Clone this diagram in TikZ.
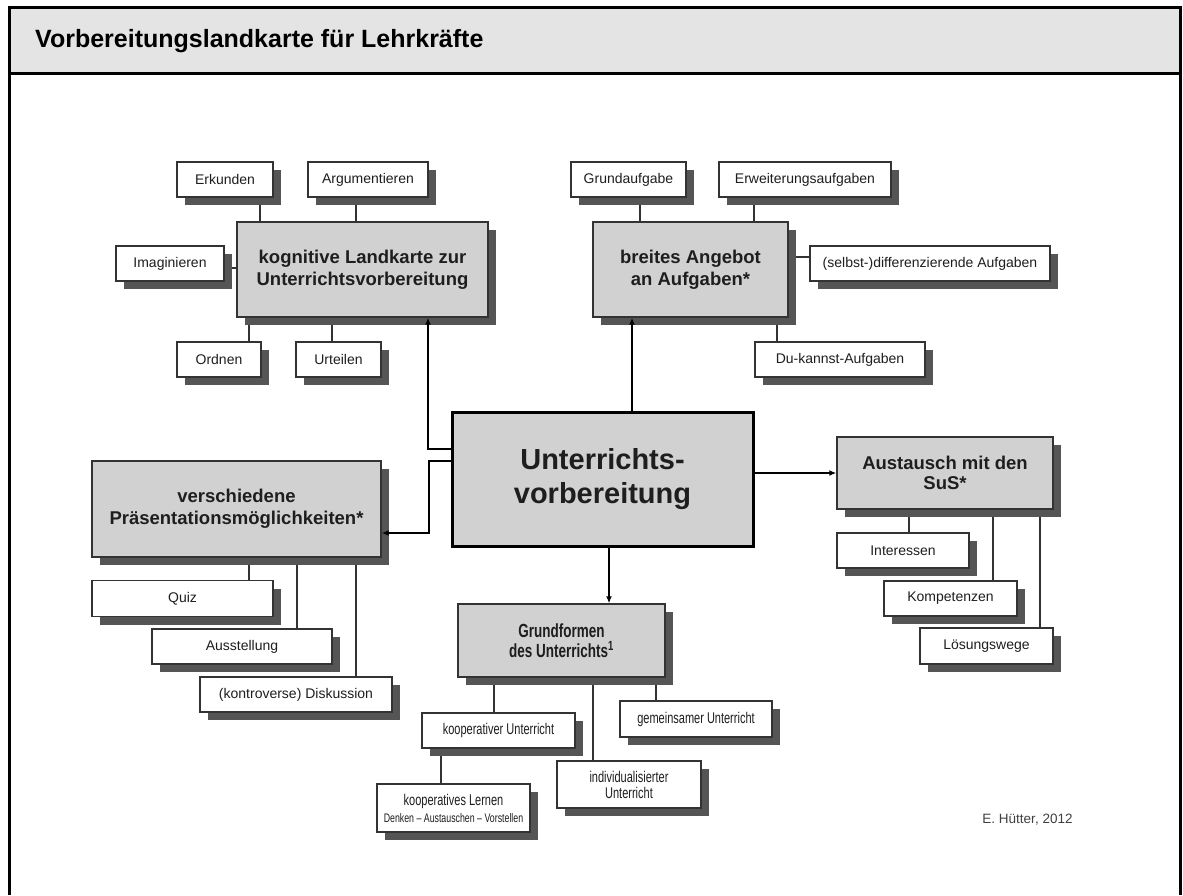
\documentclass[tikz,border=0pt]{standalone}
\usepackage{fontspec}
\setmainfont{Liberation Sans}
\newfontfamily\narrowfont[FakeStretch=0.71]{Liberation Sans}
\usetikzlibrary{shadows,arrows.meta}
\definecolor{boxgray}{HTML}{D1D1D1}
\definecolor{headgray}{HTML}{E4E4E4}
\definecolor{shadowgray}{HTML}{555555}
\definecolor{linegray}{HTML}{333333}
\definecolor{txt}{HTML}{1E1E1E}
\pgfdeclarelayer{bg}
\pgfsetlayers{bg,main}
\begin{document}
\begin{tikzpicture}[x=1pt,y=-1pt,
  every node/.style={inner sep=0pt,align=center,text=txt},
  shad/.style={drop shadow={shadow xshift=8pt,shadow yshift=-8pt,opacity=1,fill=shadowgray}},
  leaf/.style={draw=linegray,line width=1.4pt,fill=white,shad,font=\fontsize{14}{17}\selectfont},
  nleaf/.style={draw=linegray,line width=1.4pt,fill=white,shad,font=\narrowfont\fontsize{15.5}{16}\selectfont},
  topic/.style={draw=linegray,line width=1.4pt,fill=boxgray,shad,font=\bfseries\fontsize{18.5}{22}\selectfont},
  centerbox/.style={draw=black,line width=3pt,fill=boxgray,font=\bfseries\fontsize{29}{34}\selectfont},
  conn/.style={draw=linegray,line width=1.3pt},
  arr/.style={draw=black,line width=1.8pt,-{Latex[length=7pt,width=6pt]}},
  frame/.style={draw=black,line width=3pt}]
\useasboundingbox (0,0) rectangle (1183,895);
% frame and header
\fill[headgray] (9.5,7) rectangle (1180.5,73.5);
\draw[frame] (9.5,895) -- (9.5,7) -- (1180.5,7) -- (1180.5,895);
\draw[frame] (9.5,73.5) -- (1180.5,73.5);
\node[anchor=base west,font=\bfseries\fontsize{25}{29}\selectfont,text=black] (title) at (35,47) {Vorbereitungslandkarte für Lehrkräfte};

% central
\node[centerbox,minimum width=301,minimum height=134] (cen) at (602.5,479) {Unterrichts-\\vorbereitung};

% kognitive Landkarte
\node[topic,minimum width=251,minimum height=95] (kog) at (362.5,269.5) {kognitive Landkarte zur\\Unterrichtsvorbereitung};
\node[leaf,minimum width=96,minimum height=35] (erk) at (225,179.5) {Erkunden};
\node[leaf,minimum width=120,minimum height=35] (arg) at (368,179.5) {Argumentieren};
\node[leaf,minimum width=108,minimum height=35] (ima) at (170,263.5) {Imaginieren};
\node[leaf,minimum width=84,minimum height=35] (ord) at (219,359.5) {Ordnen};
\node[leaf,minimum width=85,minimum height=35] (urt) at (338.5,359.5) {Urteilen};

% breites Angebot
\node[topic,minimum width=195,minimum height=95] (bre) at (690.5,269.5) {breites Angebot\\an Aufgaben*};
\node[leaf,minimum width=115,minimum height=35] (gru) at (628.5,179.5) {Grundaufgabe};
\node[leaf,minimum width=172,minimum height=35] (erw) at (805,179.5) {Erweiterungsaufgaben};
\node[leaf,minimum width=240,minimum height=35] (sel) at (930,263.5) {(selbst-)differenzierende Aufgaben};
\node[leaf,minimum width=170,minimum height=35] (duk) at (840,359.5) {Du-kannst-Aufgaben};

% Praesentation
\node[topic,minimum width=289,minimum height=96] (ver) at (236.5,509) {verschiedene\\Präsentationsmöglichkeiten*};
\node[leaf,minimum width=181,minimum height=36] (qui) at (182.5,598.5) {Quiz};
\node[leaf,minimum width=180,minimum height=35] (aus) at (242,646.5) {Ausstellung};
\node[leaf,minimum width=192,minimum height=35] (dis) at (296,694.5) {(kontroverse) Diskussion};

% Austausch
\node[topic,minimum width=216,minimum height=72,font=\bfseries\fontsize{18.5}{20}\selectfont] (aut) at (945,473) {Austausch mit den\\SuS*};
\node[leaf,minimum width=132,minimum height=35] (int) at (903,550.5) {Interessen};
\node[leaf,minimum width=133,minimum height=35] (kom) at (950.5,598.5) {Kompetenzen};
\node[leaf,minimum width=133,minimum height=36] (los) at (986.5,646) {Lösungswege};

% Grundformen
\node[topic,minimum width=207,minimum height=73,font=\narrowfont\bfseries\fontsize{19}{19.5}\selectfont] (grf) at (561.5,640.5) {Grundformen\\des Unterrichts\textsuperscript{1}};
\node[nleaf,minimum width=153,minimum height=35] (koo) at (498.5,730.5) {kooperativer Unterricht};
\node[nleaf,minimum width=152,minimum height=36] (gem) at (696,719) {gemeinsamer Unterricht};
\node[nleaf,minimum width=144,minimum height=47] (ind) at (629,784.5) {individualisierter\\Unterricht};
\node[nleaf,minimum width=153,minimum height=48] (kol) at (453.5,808) {kooperatives Lernen\\[1pt]{\fontsize{12.4}{13}\selectfont Denken – Austauschen – Vorstellen}};

\node[font=\fontsize{13.5}{16}\selectfont,text=black!75] (author) at (1027.5,820) {E. Hütter, 2012};

% thin connectors (behind boxes)
\begin{pgfonlayer}{bg}
\draw[conn] (260,0 |- erk.south) -- (260,0 |- kog.north);
\draw[conn] (356,0 |- arg.south) -- (356,0 |- kog.north);
\draw[conn] (ima.east |- 0,268) -- (kog.west |- 0,268);
\draw[conn] (249,0 |- kog.south) -- (249,0 |- ord.north);
\draw[conn] (332,0 |- kog.south) -- (332,0 |- urt.north);
\draw[conn] (640,0 |- gru.south) -- (640,0 |- bre.north);
\draw[conn] (754,0 |- erw.south) -- (754,0 |- bre.north);
\draw[conn] (bre.east |- 0,257) -- (sel.west |- 0,257);
\draw[conn] (777,0 |- bre.south) -- (777,0 |- duk.north);
\draw[conn] (249,0 |- ver.south) -- (249,0 |- qui.north);
\draw[conn] (297,0 |- ver.south) -- (297,0 |- aus.north);
\draw[conn] (356,0 |- ver.south) -- (356,0 |- dis.north);
\draw[conn] (909,0 |- aut.south) -- (909,0 |- int.north);
\draw[conn] (993,0 |- aut.south) -- (993,0 |- kom.north);
\draw[conn] (1040,0 |- aut.south) -- (1040,0 |- los.north);
\draw[conn] (494,0 |- grf.south) -- (494,0 |- koo.north);
\draw[conn] (593,0 |- grf.south) -- (593,0 |- ind.north);
\draw[conn] (656,0 |- grf.south) -- (656,0 |- gem.north);
\draw[conn] (441,0 |- koo.south) -- (441,0 |- kol.north);
\end{pgfonlayer}

% arrows from the centre
\draw[arr] (632,0 |- cen.north) -- (632,0 |- bre.south);
\draw[arr] (cen.east |- 0,473) -- (aut.west |- 0,473);
\draw[arr] (609,0 |- cen.south) -- (609,0 |- grf.north);
\draw[arr] (cen.west |- 0,449) -| (kog.south -| 428,0);
\draw[arr] (cen.west |- 0,461) -| (429,533) -- (ver.east |- 0,533);
\end{tikzpicture}
\end{document}
